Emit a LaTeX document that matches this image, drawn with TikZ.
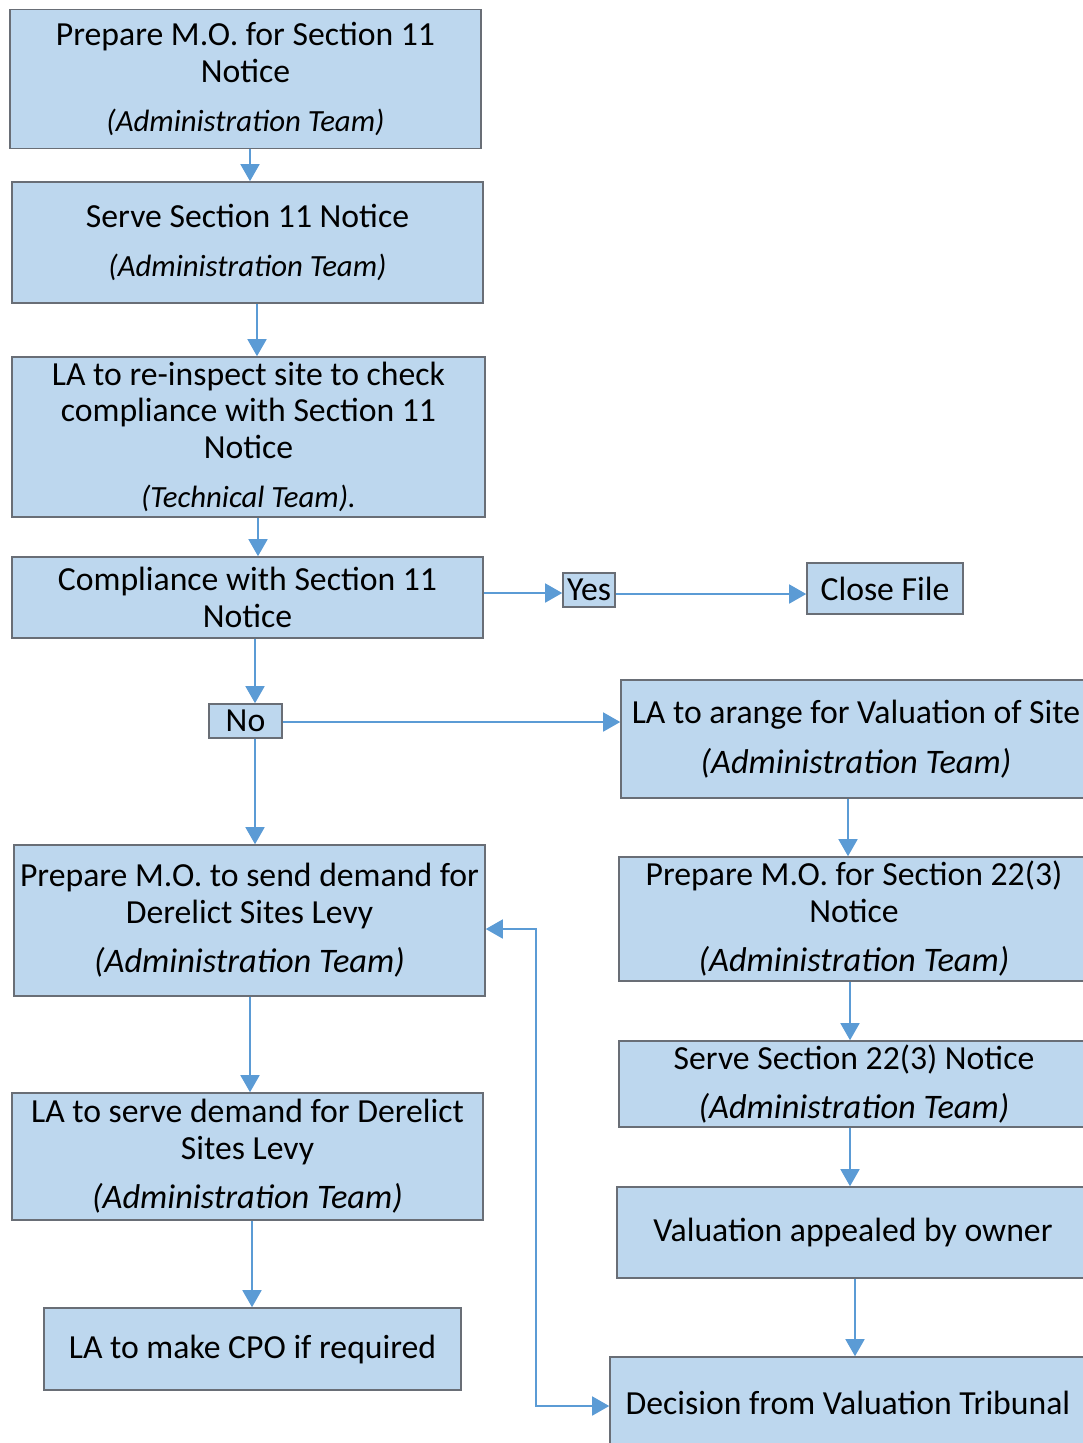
\documentclass[tikz,border=0pt]{standalone}
\usepackage{fontspec}
\setmainfont{Carlito}
\usetikzlibrary{arrows.meta}
\definecolor{boxfill}{RGB}{189,215,238}
\definecolor{boxline}{RGB}{105,110,118}
\definecolor{flow}{RGB}{91,155,213}
\tikzset{
  box/.style={draw=boxline, fill=boxfill, line width=1.6pt, inner sep=0pt,
    align=center, font=\fontsize{33.7}{36.5}\selectfont},
  arr/.style={draw=flow, line width=1.6pt, -{Triangle[length=17pt,width=19pt]}},
  twoway/.style={draw=flow, line width=1.6pt,
    {Triangle[length=17pt,width=19pt]}-{Triangle[length=17pt,width=19pt]}}
}
% team lines: a smaller size in the first three steps, a larger one elsewhere
\newcommand{\teamline}[1]{\\[13pt]{\fontsize{34.4}{36.5}\selectfont\itshape #1}}
\newcommand{\smallteamline}[1]{\\[13pt]{\fontsize{30.8}{36.5}\selectfont\itshape #1}}
\begin{document}
\begin{tikzpicture}[x=1pt,y=-1pt]
\useasboundingbox (0,0) rectangle (1083,1443);
\clip (0,0) rectangle (1083,1443);
\fill[white] (0,0) rectangle (1083,1443);

% left column
\node[box, minimum width=471pt, minimum height=139pt] (b1) at (245.5,79)
  {Prepare M.O. for Section 11\\Notice\smallteamline{(Administration Team)}};
\node[box, minimum width=471pt, minimum height=121pt] (b2) at (247.5,242.5)
  {Serve Section 11 Notice\smallteamline{(Administration Team)}};
\node[box, minimum width=473pt, minimum height=160pt] (b3) at (248.5,437)
  {LA to re-inspect site to check\\compliance with Section 11\\Notice\smallteamline{(Technical Team).}};
\node[box, minimum width=471pt, minimum height=81pt] (b4) at (247.5,597.5)
  {Compliance with Section 11\\Notice};
\node[box, minimum width=52pt, minimum height=34pt] (yes) at (589,590) {Yes};
\node[box, minimum width=156pt, minimum height=51pt] (close) at (885,588.5) {Close File};
\node[box, minimum width=73pt, minimum height=34pt] (no) at (245.5,721) {No};
\node[box, minimum width=471pt, minimum height=151pt] (b5) at (249.5,920.5)
  {Prepare M.O. to send demand for\\Derelict Sites Levy\teamline{(Administration Team)}};
\node[box, minimum width=471pt, minimum height=127pt] (b6) at (247.5,1156.5)
  {LA to serve demand for Derelict\\Sites Levy\teamline{(Administration Team)}};
\node[box, minimum width=417pt, minimum height=82pt] (b7) at (252.5,1349)
  {LA to make CPO if required};

% right column
\node[box, minimum width=470pt, minimum height=118pt] (r1) at (856,739)
  {LA to arange for Valuation of Site\teamline{(Administration Team)}};
\node[box, minimum width=470pt, minimum height=124pt] (r2) at (854,919)
  {Prepare M.O. for Section 22(3)\\Notice\teamline{(Administration Team)}};
\node[box, minimum width=470pt, minimum height=86pt] (r3) at (854,1084)
  {Serve Section 22(3) Notice\teamline{(Administration Team)}};
\node[box, minimum width=472pt, minimum height=91pt] (r4) at (853,1232.5)
  {Valuation appealed by owner};
\node[box, minimum width=476pt, minimum height=91pt] (r5) at (848,1402.5)
  {Decision from Valuation Tribunal};

% connectors
\draw[arr] ([xshift=4.5pt]b1.south) -- ([xshift=2.5pt]b2.north);
\draw[arr] ([xshift=9.5pt]b2.south) -- ([xshift=8.5pt]b3.north);
\draw[arr] ([xshift=9.5pt]b3.south) -- ([xshift=10.5pt]b4.north);
\draw[arr] ([yshift=4.5pt]b4.east) -- ([yshift=-3pt]yes.west);
\draw[arr] ([yshift=-4pt]yes.east) -- ([yshift=-5.5pt]close.west);
\draw[arr] ([xshift=7.5pt]b4.south) -- ([xshift=9.5pt]no.north);
\draw[arr] ([yshift=-1pt]no.east) -- ([yshift=17pt]r1.west);
\draw[arr] ([xshift=9.5pt]no.south) -- ([xshift=5.5pt]b5.north);
\draw[arr] ([xshift=0.5pt]b5.south) -- ([xshift=2.5pt]b6.north);
\draw[arr] ([xshift=4.5pt]b6.south) -- ([xshift=-0.5pt]b7.north);
\draw[arr] ([xshift=-8pt]r1.south) -- ([xshift=-6pt]r2.north);
\draw[arr] ([xshift=-4pt]r2.south) -- ([xshift=-4pt]r3.north);
\draw[arr] ([xshift=-4pt]r3.south) -- ([xshift=-3pt]r4.north);
\draw[arr] ([xshift=2pt]r4.south) -- ([xshift=7pt]r5.north);
\coordinate (turn) at (536,929);
\draw[twoway] ([yshift=-8.5pt]b5.east) -- (turn) |- ([yshift=-3.5pt]r5.west);
\end{tikzpicture}
\end{document}
